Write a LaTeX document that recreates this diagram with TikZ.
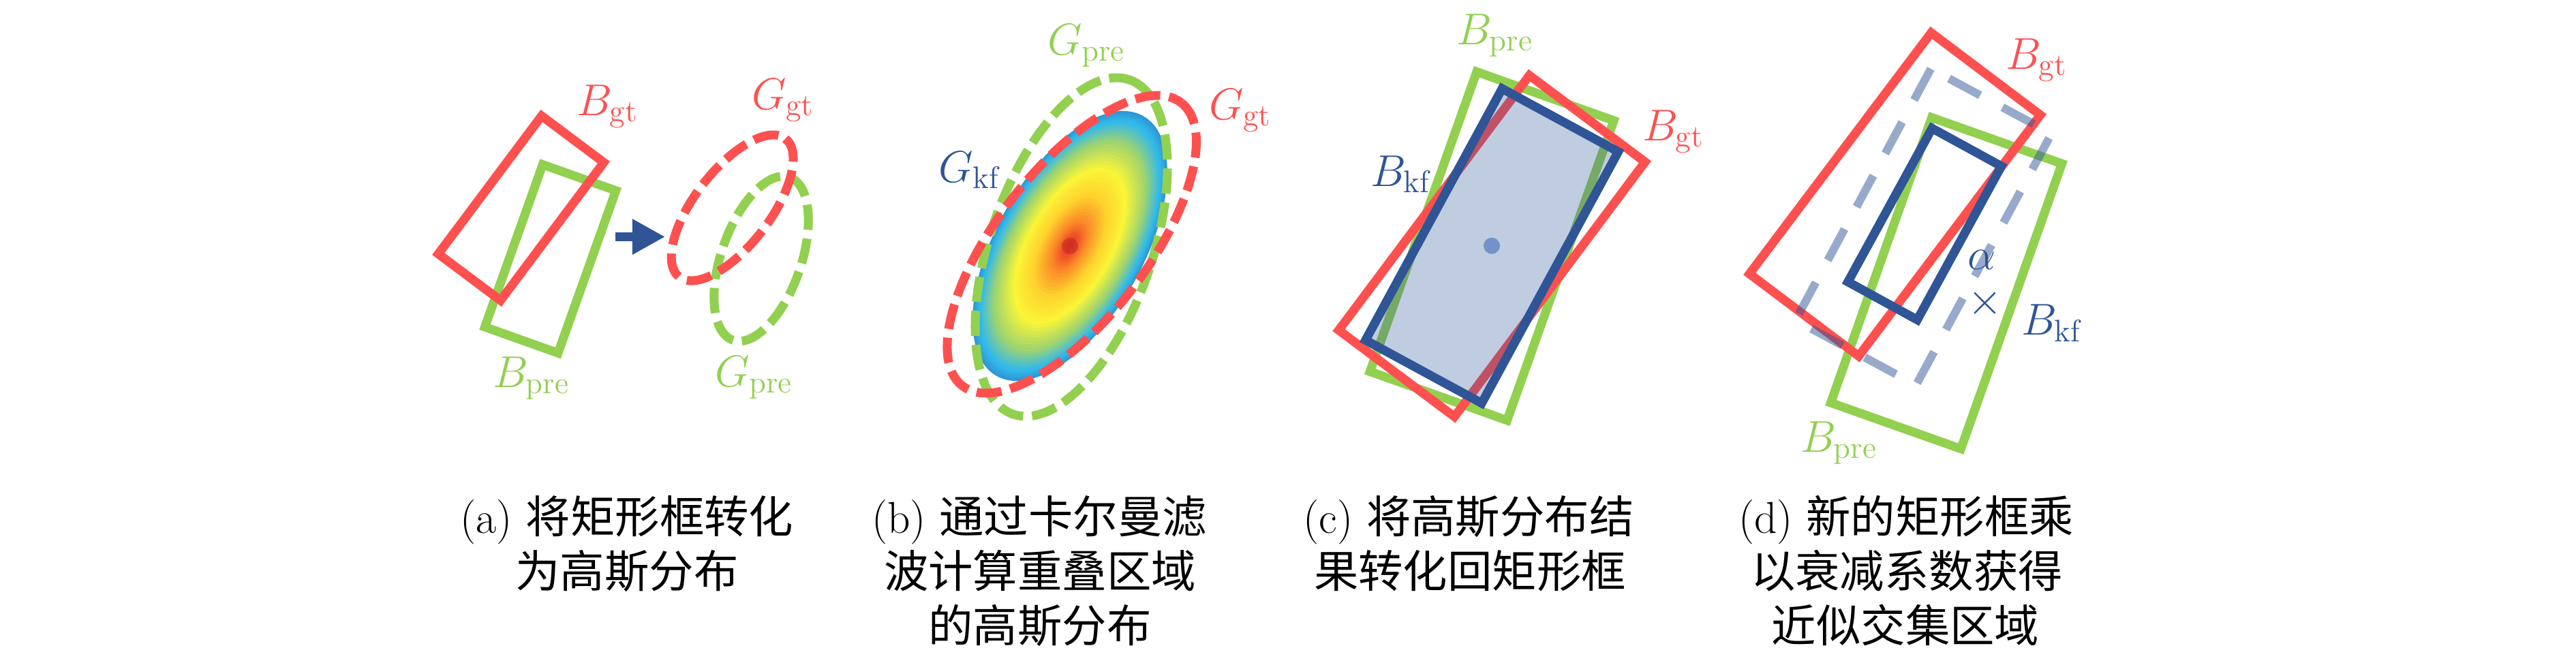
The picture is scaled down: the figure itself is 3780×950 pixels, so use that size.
\RequirePackage{fix-cm}
\documentclass[tikz,border=0pt]{standalone}
\usepackage{fontspec}
\newfontfamily\cjk{Noto Sans CJK SC}
\usetikzlibrary{arrows.meta}
\definecolor{myred}{HTML}{FF5050}
\definecolor{mygreen}{HTML}{92D050}
\definecolor{myblue}{HTML}{2F5597}
\definecolor{dotblue}{HTML}{7392C8}
\definecolor{jA}{RGB}{45,150,210}
\definecolor{jB}{RGB}{50,185,235}
\definecolor{jC}{RGB}{160,212,110}
\definecolor{jD}{RGB}{250,245,55}
\definecolor{jE}{RGB}{255,210,45}
\definecolor{jF}{RGB}{250,130,40}
\definecolor{jG}{RGB}{232,50,40}
\begin{document}
\begin{tikzpicture}[x=0.01cm,y=-0.01cm,
  every node/.style={inner sep=0pt, outer sep=0pt, font=\fontsize{18.6pt}{22.8pt}\selectfont},
  lbl/.style={anchor=base west},
  capt/.style={anchor=base, text=black},
  boxline/.style={line width=0.13cm, line join=miter},
  gdash/.style={line width=0.13cm, dash pattern=on 0.37cm off 0.13cm},
  kfdash/.style={line width=0.12cm, draw=myblue, draw opacity=0.5, dash pattern=on 0.52cm off 0.37cm}]
\useasboundingbox (0,0) rectangle (3780,950);

% ---------------- panel (a) ----------------
\draw[boxline, mygreen, shift={(807.6,379.8)}, rotate=-19.6] (-57,-126.5) rectangle (57,126.5);
\draw[boxline, myred, shift={(764.6,305.5)}, rotate=-36.8] (-57,-126.5) rectangle (57,126.5);
\coordinate (arrS) at (903,347.5);
\coordinate (arrE) at (976,347.5);
\draw[myblue, line width=0.13cm, -{Triangle[length=0.48cm,width=0.49cm]}] (arrS) -- (arrE);
\draw[gdash, mygreen, shift={(1117,379.7)}, rotate=70.8] (0,0) ellipse [x radius=126.5, y radius=58.6];
\draw[gdash, myred, shift={(1074.6,305)}, rotate=52.5] (0,0) ellipse [x radius=128, y radius=55.3];
\node[lbl, text=myred] (bgta) at (846,169) {$B_{\mathrm{gt}}$};
\node[lbl, text=mygreen] (bprea) at (723,568) {$B_{\mathrm{pre}}$};
\node[lbl, text=myred] (ggta) at (1103,160) {$G_{\mathrm{gt}}$};
\node[lbl, text=mygreen] (gprea) at (1049,567) {$G_{\mathrm{pre}}$};

% ---------------- panel (b) ----------------
\begin{scope}[shift={(1570,361)}, rotate=60.6]
  \foreach \ta/\tb/\ca/\cb in {1.00/0.93/jA/jB, 0.93/0.78/jB/jC, 0.78/0.58/jC/jD, 0.58/0.38/jD/jE, 0.38/0.18/jE/jF, 0.18/0.03/jF/jG}{
    \foreach \k in {0,...,7}{
      \pgfmathsetmacro\rr{\ta+(\tb-\ta)*\k/8}
      \pgfmathtruncatemacro\mixp{\k*100/8}
      \fill[\cb!\mixp!\ca] (0,0) ellipse [x radius=219*\rr, y radius=108*\rr];
    }
  }
  \fill[jG] (0,0) ellipse [x radius=6.6, y radius=3.3];
  \fill[jG!85!black, opacity=0.6] (0,0) circle [radius=12];
\end{scope}
\draw[gdash, mygreen, shift={(1572,362.5)}, rotate=70.8] (0,0) ellipse [x radius=259.8, y radius=118.8];
\draw[gdash, myred, shift={(1572.7,358.5)}, rotate=52.3] (0,0) ellipse [x radius=262.6, y radius=110.2];
\node[lbl, text=mygreen] (gpreb) at (1537,80) {$G_{\mathrm{pre}}$};
\node[lbl, text=myred] (ggtb) at (1774,175) {$G_{\mathrm{gt}}$};
\node[lbl, text=myblue] (gkfb) at (1377,267) {$G_{\mathrm{kf}}$};

% ---------------- panel (c) ----------------
\draw[boxline, mygreen, shift={(2189.2,361.1)}, rotate=-19.6] (-106.8,-233.5) rectangle (106.8,233.5);
\draw[boxline, myred, shift={(2189.2,361.1)}, rotate=-36.8] (-106,-233.5) rectangle (106,233.5);
\fill[myblue, fill opacity=0.3, shift={(2189.2,360.9)}, rotate=-28.5] (-97,-210) rectangle (97,210);
\draw[boxline, myblue, shift={(2189.2,360.9)}, rotate=-28.5] (-97,-210) rectangle (97,210);
\fill[dotblue] (2189,360.7) circle [radius=12];
\node[lbl, text=mygreen] (bprec) at (2137,65) {$B_{\mathrm{pre}}$};
\node[lbl, text=myred] (bgtc) at (2410,206) {$B_{\mathrm{gt}}$};
\node[lbl, text=myblue] (bkfc) at (2011,273) {$B_{\mathrm{kf}}$};

% ---------------- panel (d) ----------------
\draw[boxline, mygreen, shift={(2856,415.6)}, rotate=-19.5] (-101.3,-222) rectangle (101.3,222);
\draw[boxline, myred, shift={(2780.6,285.3)}, rotate=-37] (-100.3,-221.5) rectangle (100.3,221.5);
\draw[kfdash, shift={(2822.5,333)}, rotate=-28.3] (-100.5,-209.5) rectangle (100.5,209.5);
\draw[boxline, myblue, shift={(2824.2,328.8)}, rotate=-28.7] (-58,-128.5) rectangle (58,128.5);
\node[anchor=base, text=myblue] (alph) at (2908,395) {$\alpha$};
\node[anchor=base, text=myblue] (tms) at (2912.5,461) {$\times$};
\node[lbl, text=myred] (bgtd) at (2943,101) {$B_{\mathrm{gt}}$};
\node[lbl, text=mygreen] (bpred) at (2642,663) {$B_{\mathrm{pre}}$};
\node[lbl, text=myblue] (bkfd) at (2966,491.7) {$B_{\mathrm{kf}}$};

% ---------------- captions ----------------
\node[capt] (capa1) at (920,782) {(a) {\cjk 将矩形框转化}};
\node[capt] (capa2) at (920,862) {{\cjk 为高斯分布}};
\node[capt] (capb1) at (1525,782) {(b) {\cjk 通过卡尔曼滤}};
\node[capt] (capb2) at (1526,862) {{\cjk 波计算重叠区域}};
\node[capt] (capb3) at (1526,942) {{\cjk 的高斯分布}};
\node[capt] (capc1) at (2155,782) {(c) {\cjk 将高斯分布结}};
\node[capt] (capc2) at (2157,862) {{\cjk 果转化回矩形框}};
\node[capt] (capd1) at (2797,782) {(d) {\cjk 新的矩形框乘}};
\node[capt] (capd2) at (2798,862) {{\cjk 以衰减系数获得}};
\node[capt] (capd3) at (2796,942) {{\cjk 近似交集区域}};
\end{tikzpicture}
\end{document}
